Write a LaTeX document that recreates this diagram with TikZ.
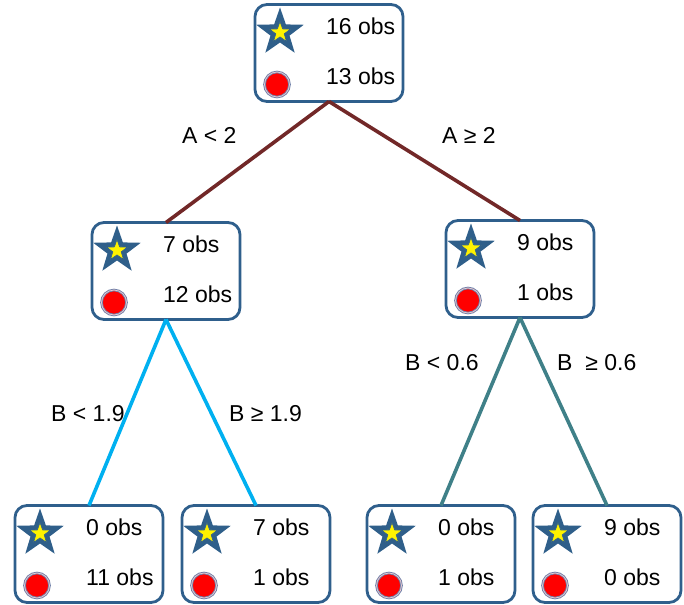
\documentclass[tikz,border=0pt]{standalone}
\usepackage{fontspec}
\setmainfont{Liberation Sans}
\usetikzlibrary{shapes.geometric}

\definecolor{boxblue}{HTML}{2F5F8C}
\definecolor{starblue}{HTML}{2F5F8A}
\definecolor{ringblue}{HTML}{7080A8}
\definecolor{ringpink}{HTML}{E8C8D0}
\definecolor{splitA}{HTML}{722828}
\definecolor{splitB}{HTML}{00B0F0}
\definecolor{splitC}{HTML}{3F8088}

\tikzset{
	obsbox/.style={draw=boxblue, line width=2.8pt, rounded corners=12pt, fill=white,
		minimum width=148pt, minimum height=97pt, inner sep=0pt, outer sep=0pt},
	bluestar/.style={star, star points=5, star point ratio=2.5, fill=starblue,
		minimum size=50pt, inner sep=0pt},
	yellowstar/.style={star, star points=5, star point ratio=2.5, fill=yellow,
		draw=starblue, line width=0.6pt, minimum size=22pt, inner sep=0pt},
	obstext/.style={inner sep=0pt, anchor=base west, font=\fontsize{23}{27}\selectfont},
	split/.style={line width=3.6pt},
}

% box with star count and dot count
\newcommand{\obsnode}[4]{%
	\node[obsbox] (#1) at (#2) {};
	\node[bluestar] (#1star) at ([shift={(25,28)}]#1.north west) {};
	\node[yellowstar] (#1in) at (#1star) {};
	\draw[draw=ringblue, double=ringpink, double distance=0.8pt, line width=0.9pt, fill=red]
		([shift={(22,80)}]#1.north west) circle [radius=12.5pt];
	\node[obstext] (#1top) at ([shift={(71,30)}]#1.north west) {#3 obs};
	\node[obstext] (#1bot) at ([shift={(71,80)}]#1.north west) {#4 obs};
}

\begin{document}
\begin{tikzpicture}[x=1pt, y=-1pt]
		\useasboundingbox (0,0) rectangle (684,604);
		\obsnode{root}{329,53}{16}{13}
		\obsnode{lo}{166,271}{7}{12}
		\obsnode{hi}{520,269}{9}{1}
		\obsnode{lolo}{89,554}{0}{11}
		\obsnode{lohi}{256,554}{7}{1}
		\obsnode{hilo}{441,554}{0}{1}
		\obsnode{hihi}{607,554}{9}{0}
		\draw[split, splitA] (root.south) -- (lo.north);
		\draw[split, splitA] (root.south) -- (hi.north);
		\draw[split, splitB] (lo.south) -- (lolo.north);
		\draw[split, splitB] (lo.south) -- (lohi.north);
		\draw[split, splitC] (hi.south) -- (hilo.north);
		\draw[split, splitC] (hi.south) -- (hihi.north);
		\node[obstext] (cutA1) at (182,143) {A < 2};
		\node[obstext] (cutA2) at (442,143) {A ≥ 2};
		\node[obstext] (cutB1) at (51,421) {B < 1.9};
		\node[obstext] (cutB2) at (229,421) {B ≥ 1.9};
		\node[obstext] (cutC1) at (405,370) {B < 0.6};
		\node[obstext] (cutC2) at (557,370) {B~~≥ 0.6};
\end{tikzpicture}
\end{document}
